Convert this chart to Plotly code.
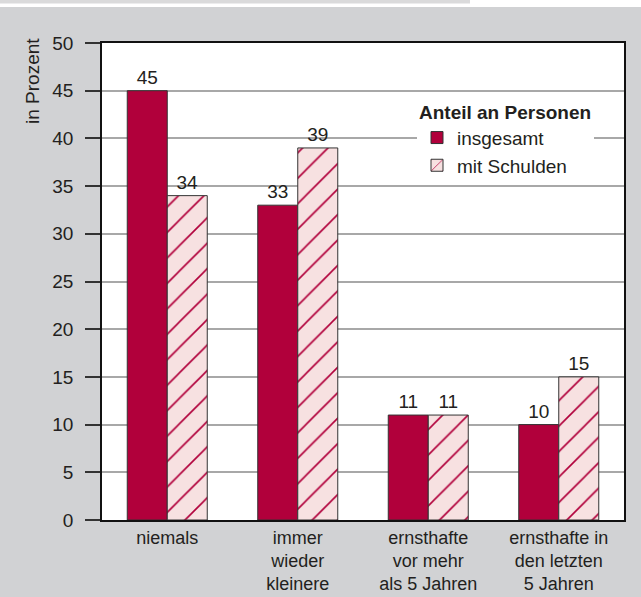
import plotly.graph_objects as go

categories = ["niemals", "immer<br>wieder<br>kleinere", "ernsthafte<br>vor mehr<br>als 5 Jahren", "ernsthafte in<br>den letzten<br>5 Jahren"]
insgesamt = [45, 33, 11, 10]
mit_schulden = [34, 39, 11, 15]
series_names = ["insgesamt", "mit Schulden"]
legend_title = "Anteil an Personen"
y_title = "in Prozent"
y_ticks = [0, 5, 10, 15, 20, 25, 30, 35, 40, 45, 50]

W, H = 641, 597
L, R, T, B = 102, 17, 43, 77
FONT = "Liberation Sans, Arial, Helvetica, sans-serif"
TXT = "#231f20"
RED = "#b1003b"
PINK = "#f7e1e1"
EDGE = "#333333"

def fx(p):
    return (p - L) / (W - L - R)

def fy(p):
    return (H - B - p) / (H - T - B)

fig = go.Figure()
fig.add_trace(go.Bar(
    x=categories, y=insgesamt, name=series_names[0],
    marker=dict(color=RED, line=dict(color=EDGE, width=1)),
    text=insgesamt, textposition="outside", cliponaxis=False,
    textfont=dict(size=19, color=TXT, family=FONT),
))
fig.add_trace(go.Bar(
    x=categories, y=mit_schulden, name=series_names[1],
    marker=dict(color=PINK, line=dict(color=EDGE, width=1),
                pattern=dict(shape="/", fgcolor=RED, bgcolor=PINK, size=18, solidity=0.09, fillmode="replace")),
    text=mit_schulden, textposition="outside", cliponaxis=False,
    textfont=dict(size=19, color=TXT, family=FONT),
))

shapes = [
    dict(type="rect", xref="paper", yref="paper", x0=fx(0), x1=fx(W), y0=fy(0), y1=fy(7),
         fillcolor="white", line=dict(width=0), layer="below"),
    dict(type="rect", xref="paper", yref="paper", x0=fx(0), x1=fx(470), y0=fy(0), y1=fy(3.5),
         fillcolor="#dadadb", line=dict(width=0), layer="below"),
]

fig.update_layout(
    width=W, height=H,
    autosize=False,
    margin=dict(l=L, r=R, t=T, b=B, pad=0, autoexpand=False),
    paper_bgcolor="#d1d2d4",
    plot_bgcolor="white",
    barmode="group",
    bargap=0.387,
    bargroupgap=0,
    font=dict(family=FONT, size=19, color=TXT),
    showlegend=True,
    legend=dict(
        title=dict(text="<b>" + legend_title + "</b>", font=dict(size=19, color=TXT, family=FONT), side="top"),
        x=fx(417), xanchor="left", y=fy(94), yanchor="top",
        bgcolor="white", borderwidth=0,
        font=dict(size=19, color=TXT, family=FONT),
        tracegroupgap=0,
    ),
    shapes=shapes,
    annotations=[dict(
        text=y_title, xref="paper", yref="paper", x=fx(33), y=fy(81),
        xanchor="center", yanchor="middle", textangle=-90, showarrow=False,
        font=dict(size=19, color=TXT, family=FONT),
    )],
)
fig.update_yaxes(
    range=[0, 50], tickvals=y_ticks, ticks="outside", ticklen=15, tickwidth=1.5, tickcolor="#333333",
    showgrid=True, gridcolor="#a8a8a8", gridwidth=1.5,
    showline=True, linecolor="#111111", linewidth=1.8, mirror=True,
    tickfont=dict(size=19, color=TXT, family=FONT), ticklabelstandoff=8,
    zeroline=False, fixedrange=True, automargin=False,
)
fig.update_xaxes(
    showline=True, linecolor="#111111", linewidth=1.8, mirror=True,
    ticks="", tickfont=dict(size=18, color=TXT, family=FONT),
    showgrid=False, fixedrange=True, automargin=False,
)
fig.write_html(
    "out.html",
    config={"displayModeBar": False},
    post_script="document.body.style.margin='0';document.body.style.overflow='hidden';",
)
